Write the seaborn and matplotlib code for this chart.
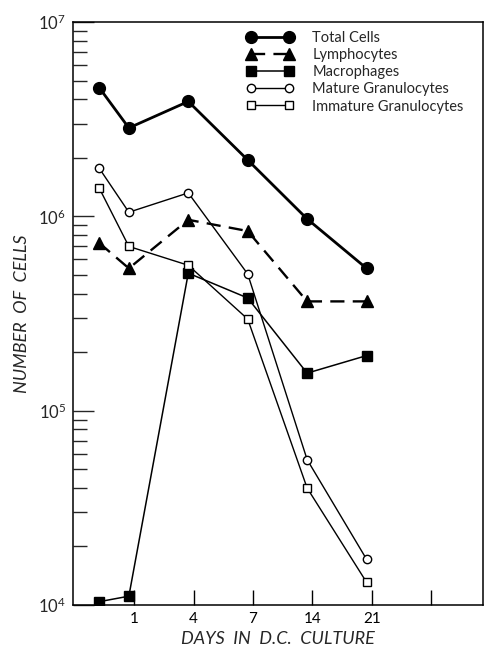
import numpy as np
import pandas as pd
import matplotlib
matplotlib.use("Agg")
import matplotlib.pyplot as plt
import seaborn as sns
from matplotlib.ticker import LogLocator, NullFormatter, FixedLocator

# ---- data ----
days = ["0", "1", "4", "7", "14", "21"]
total_cells = [4.6e6, 2.85e6, 3.9e6, 1.95e6, 9.7e5, 5.4e5]
lymphocytes = [7.3e5, 5.4e5, 9.6e5, 8.4e5, 3.65e5, 3.65e5]
macrophages = [1.04e4, 1.11e4, 5.1e5, 3.8e5, 1.56e5, 1.92e5]
mature_gran = [1.77e6, 1.05e6, 1.32e6, 5.05e5, 5.6e4, 1.72e4]
immature_gran = [1.40e6, 7.0e5, 5.6e5, 2.96e5, 4.0e4, 1.31e4]
tick_labels = ["1", "4", "7", "14", "21", ""]
series_names = ["Total Cells", "Lymphocytes", "Macrophages",
                "Mature Granulocytes", "Immature Granulocytes"]

sns.set_style("ticks")
plt.rcParams["font.family"] = ["Lato", "DejaVu Sans"]
plt.rcParams["mathtext.default"] = "regular"

fig = plt.figure(figsize=(4.85, 6.5), dpi=100)
ax = fig.add_axes([73 / 485, 1 - 605 / 650, 410 / 485, 583 / 650])

# category positions: day 0 sits half a step before day 1
pos = np.array([0.5] + list(range(1, len(days)))) - 0.06

styles = [
    dict(values=total_cells, marker="o", ms=8.5, lw=2.0, mfc="black", ls="-"),
    dict(values=lymphocytes, marker="^", ms=9, lw=1.7, mfc="black", ls="--"),
    dict(values=macrophages, marker="s", ms=6.5, lw=1.1, mfc="black", ls="-"),
    dict(values=mature_gran, marker="o", ms=6, lw=1.0, mfc="white", ls="-"),
    dict(values=immature_gran, marker="s", ms=6, lw=1.0, mfc="white", ls="-"),
]

handles = []
for name, st in zip(series_names, styles):
    df = pd.DataFrame({"x": pos, "y": st["values"]})
    n_before = len(ax.lines)
    sns.lineplot(data=df, x="x", y="y", ax=ax, color="black", sort=False,
                 marker=st["marker"], markersize=st["ms"], linewidth=st["lw"],
                 markerfacecolor=st["mfc"], markeredgecolor="black",
                 markeredgewidth=1.0, legend=False)
    line = ax.lines[n_before]
    if st["ls"] == "--":
        line.set_dashes([6, 3.5])
    handles.append(line)

ax.set_yscale("log")
ax.set_ylim(1e4, 1e7)
ax.set_xlim(0, 6.9)

ax.xaxis.set_major_locator(FixedLocator(np.arange(1, 7) + 0.03))
ax.set_xticklabels(tick_labels, fontsize=11)
ax.yaxis.set_major_locator(LogLocator(base=10, numticks=10))
ax.yaxis.set_minor_locator(LogLocator(base=10, subs=np.arange(2, 10), numticks=20))
ax.yaxis.set_minor_formatter(NullFormatter())
ax.set_yticks([1e4, 1e5, 1e6, 1e7])
ax.set_yticklabels([r"$10^{4}$", r"$10^{5}$", r"$10^{6}$", r"$10^{7}$"], fontsize=12)

ax.tick_params(axis="x", direction="in", length=11, width=1, pad=5, colors="black")
ax.tick_params(axis="y", which="major", direction="in", length=15, width=1, pad=5)
ax.tick_params(axis="y", which="minor", direction="in", length=10, width=1)

for sp in ax.spines.values():
    sp.set_visible(True)
    sp.set_linewidth(1.1)
    sp.set_color("black")

ax.set_xlabel("DAYS  IN  D.C.  CULTURE", fontsize=13, style="italic", labelpad=4)
ax.set_ylabel("NUMBER  OF  CELLS", fontsize=13, style="italic", labelpad=6)

leg = ax.legend(handles, series_names, loc="upper left",
                bbox_to_anchor=(0.424, 0.985), frameon=False, numpoints=2,
                handlelength=3.2, handletextpad=1.3, labelspacing=0.22,
                borderpad=0, borderaxespad=0, fontsize=10.5)

fig.savefig("out.png", dpi=100, facecolor="white")
